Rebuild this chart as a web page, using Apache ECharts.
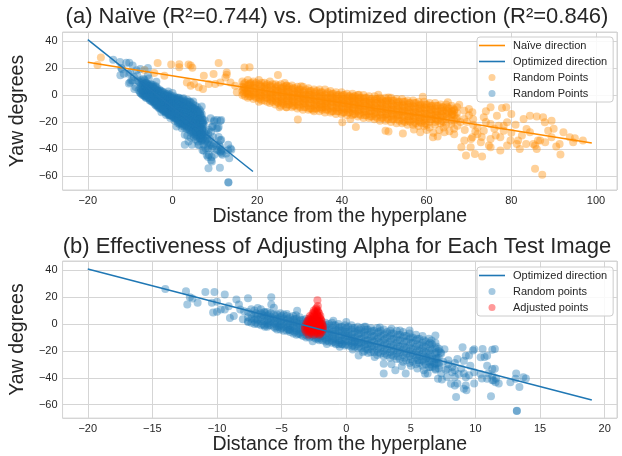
<!DOCTYPE html>
<html>
<head>
<meta charset="utf-8">
<script src="https://cdn.jsdelivr.net/npm/echarts@6/dist/echarts.min.js"></script>
<style>
html, body { margin: 0; padding: 0; background: #fff; }
#chart { width: 622px; height: 456px; }
</style>
</head>
<body>
<div id="chart"></div>
<script>
// fitted lines (end points)
var naiveLine = [[-20, 24.2], [99, -35.6]];
var optLine = [[-20, 41], [19, -56.6]];

// blue cloud: dense core as columns [x, [y...]]
var blueCoreCols = [
    [-7.6, [9, 5, 2]], [-7.35, [11, 7, 4, 1]], [-7.1, [10, 6, 3, 0]], [-6.85, [12, 7, 3, 0]],
    [-6.6, [8, 5, 2, -1]], [-6.35, [9, 6, 2, -1]], [-6.1, [9, 6, 3, 0, -2]], [-5.85, [8, 5, 2, -1]],
    [-5.6, [7, 4, 1, -2]], [-5.35, [7, 4, 1, -2, -4]], [-5.1, [8, 5, 2, -1, -4]], [-4.85, [7, 4, 1, -2, -5]],
    [-4.6, [6, 3, 0, -3, -5]], [-4.35, [5, 2, -1, -4, -6]], [-4.1, [6, 3, 0, -2, -5, -7]], [-3.85, [4, 1, -2, -5, -8]],
    [-3.6, [5, 2, -1, -4, -7]], [-3.35, [3, 0, -3, -6, -9]], [-3.1, [4, 1, -2, -5, -8, -10]], [-2.85, [3, -1, -4, -7, -10]],
    [-2.6, [3, 0, -3, -6, -9]], [-2.35, [2, -2, -5, -8, -11]], [-2.1, [2, -1, -4, -7, -10, -12]], [-1.85, [0, -3, -6, -9, -12]],
    [-1.6, [1, -2, -5, -8, -11, -13]], [-1.35, [0, -4, -7, -10, -13]], [-1.1, [1, -3, -6, -9, -12, -14]], [-0.85, [-1, -4, -7, -11, -14]],
    [-0.6, [0, -3, -6, -9, -12, -15]], [-0.35, [-2, -5, -8, -12, -15]], [-0.1, [-1, -4, -7, -10, -13, -16]], [0.15, [-2, -6, -9, -13, -16]],
    [0.4, [-1, -4, -8, -11, -14, -17]], [0.65, [-3, -6, -10, -13, -17]], [0.9, [-2, -5, -8, -12, -15, -18]], [1.15, [-3, -7, -11, -14, -18]],
    [1.4, [-2, -6, -9, -13, -16, -20]], [1.65, [-4, -8, -12, -15, -19]], [1.9, [-3, -6, -10, -14, -17, -21]], [2.15, [-5, -9, -13, -17, -21]],
    [2.4, [-3, -7, -11, -15, -19, -23]], [2.65, [-5, -9, -14, -18, -22]], [2.9, [-4, -8, -12, -16, -20, -24]], [3.15, [-6, -10, -15, -19, -23]],
    [3.4, [-5, -9, -13, -17, -21, -25]], [3.65, [-7, -11, -16, -20, -24]], [3.9, [-5, -10, -14, -18, -22, -26]], [4.15, [-8, -12, -17, -21, -26]],
    [4.4, [-6, -10, -15, -19, -23, -28]], [4.65, [-9, -13, -18, -22, -27]], [4.9, [-7, -11, -16, -20, -24, -29]], [5.15, [-10, -14, -19, -23, -28]],
    [5.4, [-8, -12, -17, -21, -25, -30]], [5.65, [-11, -16, -20, -24, -29]], [5.9, [-9, -14, -18, -22, -27, -31]], [6.15, [-13, -17, -21, -26, -30]],
    [6.4, [-11, -15, -20, -24, -28, -32]], [6.65, [-15, -19, -24, -28, -32]], [6.9, [-14, -18, -22, -26, -30, -34]], [7.15, [-20, -25, -29, -33]],
    [-7.0, [8, 4, 1]], [-6.5, [7, 4, 0]], [-6.0, [7, 4, 1, -1]], [-5.5, [6, 3, 0, -3]],
    [-5.0, [6, 3, 0, -3]], [-4.5, [4, 1, -2, -4]], [-4.0, [4, 1, -3, -6]], [-3.5, [3, 0, -3, -6, -8]],
    [-3.0, [2, -1, -4, -7, -9]], [-2.5, [1, -2, -5, -8, -10]], [-2.0, [0, -3, -6, -9, -11]], [-1.5, [-1, -4, -7, -10, -12]],
    [-1.0, [-1, -5, -8, -11, -13]], [-0.5, [-2, -5, -9, -12, -14]], [0.0, [-3, -6, -9, -12, -15]], [0.5, [-3, -7, -10, -13, -16]],
    [1.0, [-4, -7, -11, -14, -17]], [1.5, [-4, -8, -12, -15, -18]], [2.0, [-5, -9, -12, -16, -19]], [2.5, [-6, -10, -13, -17, -21]],
    [3.0, [-7, -11, -14, -18, -22]], [3.5, [-7, -11, -15, -19, -23]], [4.0, [-8, -12, -16, -20, -24]], [4.5, [-9, -13, -17, -21, -25]],
    [5.0, [-10, -14, -18, -22, -26]], [5.5, [-11, -15, -19, -23, -27]], [6.0, [-12, -16, -20, -24, -28]], [6.5, [-14, -18, -22, -26, -30]],
    [7.0, [-17, -21, -25, -29]]
];
// blue cloud: scattered points
var blueSparse = [
    [-14, 26], [-12.4, 24.4], [-12.3, 14.6], [-12.1, 20], [-11.9, 19], [-11.5, 15.8], [-10.9, 23.9], [-10.2, 23.9],
    [-10.4, 15.8], [-10, 16.5], [-9.4, 21.9], [-10.3, 8.5], [-10, 9.2], [-9.7, 10.8], [-9.4, 10.8], [-9.1, 13.3],
    [-9, 4.5], [-8.7, 5.9], [-8.5, 18.3], [-8.3, 14.5], [-7.6, 19.2], [-8.2, 10.8], [-7.9, 9.6], [-8, 3.5],
    [-7.6, 1.5], [-5.8, 20], [-5.8, 14.6], [-5.6, 12.2], [-6.6, 11], [-6.3, 8.6], [-3.8, 9.8], [-3.9, 6.5],
    [-4.6, 7.5], [-3.7, -7.5], [-4.4, -4.5], [-5.2, -2], [-6.3, -2], [-2.6, -12.8], [-2.2, -11], [-1.5, -14.8],
    [-0.8, -15], [-0.3, -14.8], [0.65, -13.5], [0.96, -23.4], [1.7, -21.6], [2.2, -24.6], [2.9, -36.9], [4.6, -36.9],
    [4.15, -4.9], [4.9, -4.9], [6.9, -8.6], [6.6, -12.3], [7.2, -18.5], [7.35, -22], [6, -34.4], [6.3, -36.9],
    [6.9, -33.2], [7.4, -41.3], [8.4, -39.4], [9, -17.2], [9.5, -23.4], [9.8, -19.7], [10.55, -18.5], [10.7, -24.6],
    [11.5, -18.5], [11.5, -33.2], [11.6, -40.6], [11.8, -44.3], [8.6, -44.3], [8.5, -54.3], [9.3, -49.2], [9.9, -44.3],
    [11.2, -53.8], [13.15, -36.9], [13.4, -46.8], [13.9, -40.6], [13.2, -64.7], [13.2, -64.6], [11.3, -41.8], [10.5, -40.6],
    [11, -36.9], [8.4, -34.4], [9.1, -36.9], [9.5, -38.1], [7.35, -36.9], [7.8, -39.4], [2.9, -29.5], [3.8, -34.4],
    [6.1, -37], [7.3, -21.2], [7.6, -18.7], [7.1, -40.8], [8.1, -44.5], [8.4, -45.8], [9.25, -23.6], [9.9, -18.7],
    [10.4, -24.8], [10.9, -23.6], [11.3, -19.2], [8.6, -26], [9.1, -27.3], [9.6, -31], [7.85, -33.5], [8.2, -35.9],
    [8.7, -37.1], [9.25, -39.6], [9.9, -35.9], [10.4, -37.1], [10.9, -40.8], [11.3, -38.4], [11.4, -42], [11.55, -43.3],
    [9.1, -48.2], [9.25, -45.8], [12.7, -43.3], [13.1, -40.8], [13.7, -39.6], [10.9, -31], [11.3, -33.5], [7.5, -28],
    [7.9, -30], [8.2, -32], [7.7, -34], [8.4, -29], [8.9, -33], [7.2, -31], [6.8, -29], [6.5, -32],
    [7, -26], [7.9, -27], [5.5, -33], [5, -31], [4.3, -31.5], [3.5, -30], [6.2, -25], [5.6, -27],
    [1.3, -21], [0.5, -19], [-0.5, -17], [1.5, -2], [2.6, -2.5], [3.5, -3.5], [-1, 2.5], [0, 1.5]
];

// orange (naive) cloud: dense core as columns [x, [y...]]
var orangeCoreCols = [
    [16.5, [10, 6, 3, 0]], [17.15, [9, 5, 2, -1]], [17.8, [11, 7, 4, 1, -2]], [18.45, [9, 5, 2, -1]],
    [19.1, [10, 7, 3, 0, -3]], [19.75, [9, 5, 2, -2]], [20.4, [11, 8, 4, 1, -2, -5]], [21.05, [9, 6, 2, -1, -4]],
    [21.7, [9, 6, 3, 0, -4]], [22.35, [8, 5, 1, -2, -5]], [23.0, [10, 7, 3, 0, -3, -6]], [23.65, [8, 4, 1, -2, -5]],
    [24.3, [8, 5, 2, -1, -4, -7]], [24.95, [7, 3, 0, -3, -6]], [25.6, [8, 5, 2, -2, -5, -8]], [26.25, [6, 3, 0, -3, -7]],
    [26.9, [7, 4, 1, -2, -5, -9]], [27.55, [6, 2, -1, -4, -7]], [28.2, [7, 4, 0, -3, -6, -9]], [28.85, [5, 2, -1, -5, -8]],
    [29.5, [6, 3, 0, -3, -7, -10]], [30.15, [4, 1, -2, -5, -9]], [30.8, [6, 2, -1, -4, -7, -11]], [31.45, [4, 0, -3, -6, -9]],
    [32.1, [5, 2, -1, -4, -8, -11]], [32.75, [3, 0, -3, -6, -10]], [33.4, [4, 1, -2, -5, -8, -12]], [34.05, [3, -1, -4, -7, -10]],
    [34.7, [4, 1, -2, -5, -9, -12]], [35.35, [2, -1, -4, -7, -11]], [36.0, [4, 0, -3, -6, -9, -13]], [36.65, [2, -2, -5, -8, -11]],
    [37.3, [3, 0, -3, -6, -10, -13]], [37.95, [1, -2, -5, -9, -12]], [38.6, [2, -1, -4, -7, -10, -14]], [39.25, [0, -3, -6, -9, -12]],
    [39.9, [2, -1, -4, -7, -11, -14]], [40.55, [0, -3, -6, -10, -13]], [41.2, [1, -2, -5, -8, -11, -15]], [41.85, [-1, -4, -7, -10, -13]],
    [42.5, [1, -2, -5, -9, -12, -15]], [43.15, [-1, -4, -7, -11, -14]], [43.8, [0, -3, -6, -9, -12, -16]], [44.45, [-2, -5, -8, -11, -15]],
    [45.1, [0, -3, -6, -10, -13, -17]], [45.75, [-2, -5, -8, -12, -15]], [46.4, [-1, -4, -7, -10, -14, -17]], [47.05, [-3, -6, -9, -12, -16]],
    [47.7, [-1, -4, -8, -11, -14, -18]], [48.35, [-3, -6, -10, -13, -17]], [49.0, [-2, -5, -8, -11, -15, -19]], [49.65, [-4, -7, -10, -14, -17]],
    [50.3, [-2, -5, -9, -12, -15, -19]], [50.95, [-4, -7, -11, -14, -18]], [51.6, [-2, -6, -9, -12, -16, -20]], [52.25, [-4, -8, -11, -15, -18]],
    [52.9, [-3, -6, -10, -13, -16, -21]], [53.55, [-5, -8, -12, -15, -19]], [54.2, [-3, -7, -10, -13, -17, -21]], [54.85, [-5, -9, -12, -16, -20]],
    [55.5, [-4, -7, -11, -14, -18, -22]], [56.15, [-6, -9, -13, -16, -20]], [56.8, [-4, -8, -11, -15, -18, -22]], [57.45, [-6, -10, -13, -17, -21]],
    [58.1, [-5, -8, -12, -15, -19, -23]], [58.75, [-7, -10, -14, -17, -21]], [59.4, [-5, -9, -12, -16, -19, -23]], [60.05, [-7, -11, -14, -18, -22]],
    [60.7, [-6, -9, -13, -16, -20, -24]], [61.35, [-8, -11, -15, -18]], [62.0, [-6, -10, -13, -17, -20]], [62.65, [-8, -12, -15, -19]],
    [63.3, [-7, -10, -14, -17, -21]], [63.95, [-9, -12, -16, -20]], [64.6, [-7, -11, -14, -18, -22]], [65.25, [-10, -13, -17]],
    [65.9, [-8, -12, -15, -19]], [66.55, [-11, -15, -19]], [67.2, [-9, -13, -17]],
    [16.8, [8, 4, 1]], [18.1, [8, 5, 1, -1]], [19.4, [8, 5, 1, -1]], [20.7, [7, 3, 0, -3]],
    [22.0, [7, 4, 1, -2]], [23.3, [6, 2, -1, -4]], [24.6, [6, 3, -1, -5]], [25.9, [5, 2, -1, -4, -6]],
    [27.2, [5, 2, -1, -4, -7]], [28.5, [5, 1, -2, -5, -8]], [29.8, [4, 1, -2, -5, -8]], [31.1, [3, 0, -3, -6, -9]],
    [32.4, [3, 0, -3, -6, -10]], [33.7, [2, -1, -4, -7, -10]], [35.0, [2, -1, -4, -7, -10]], [36.3, [1, -2, -5, -8, -11]],
    [37.6, [1, -2, -5, -8, -12]], [38.9, [0, -3, -6, -9, -12]], [40.2, [0, -3, -6, -9, -13]], [41.5, [-1, -4, -7, -10, -13]],
    [42.8, [-1, -4, -7, -10, -14]], [44.1, [-2, -5, -8, -11, -14]], [45.4, [-2, -5, -8, -12, -15]], [46.7, [-3, -6, -9, -12, -16]],
    [48.0, [-3, -6, -9, -13, -16]], [49.3, [-3, -6, -10, -13, -17]], [50.6, [-4, -7, -10, -14, -17]], [51.9, [-4, -7, -11, -14, -18]],
    [53.2, [-5, -8, -11, -15, -18]], [54.5, [-5, -8, -12, -15, -19]], [55.8, [-6, -9, -12, -16, -19]], [57.1, [-6, -9, -13, -16, -20]],
    [58.4, [-7, -10, -13, -17, -20]], [59.7, [-7, -10, -14, -17, -21]], [61.0, [-8, -11, -14, -18]], [62.3, [-8, -12, -15, -18]],
    [63.6, [-9, -12, -15, -19]], [64.9, [-9, -12, -16]], [66.2, [-10, -14]]
];
// orange cloud: scattered points
var orangeSparse = [
    [-16.9, 27.8], [-17.7, 22.1], [-3.5, 23.6], [-0.3, 22.6], [1.6, 20.5], [1.6, 22.8], [3.8, 22.5], [4.3, 21.8],
    [4.7, 20.1], [10.9, 23.6], [-4.3, 16.2], [-1.9, 14.3], [-6.6, 18.4], [3.4, 9.3], [4.3, 6.9], [5.1, 8.1],
    [6.2, 5.7], [7.2, 4.4], [7.4, 14.3], [9.7, 15.5], [12.8, 15], [12.5, 13], [12.8, 16.7], [8.6, 8.1],
    [10.1, 8.1], [11.3, 9.3], [13.7, 9.3], [17, 20.4], [18.2, 20.5], [14.8, 6.9], [15.2, 2], [16.8, 5.7],
    [17.6, 2], [18.4, 8.1], [24.9, 14.7], [26.5, 8.8], [26.9, 6.9], [30.35, 6.4], [29.6, -18.2], [25.3, -9.1],
    [26.9, -9.1], [33.1, -10.9], [35.4, -9.1], [40.1, -20.2], [42, -17.7], [43.3, -23.6], [44, 0.2], [42.4, -1.8],
    [48.6, 0.2], [51, -1.8], [50.3, -26.4], [51, -27.1], [54.4, -28.5], [57, -25.6], [58.5, -27.5], [59.1, -1.3],
    [61.5, -31.3], [62.6, -30.8], [64.2, -27.6], [61.6, -28], [65.4, -26.8], [65, -5.4], [66.5, -11.6], [67.7, -7.2],
    [68.9, -11.6], [70, -10.4], [70.8, -12.8], [68.9, -17.7], [67.3, -22.7], [65.8, -21.4], [68.9, -33.7], [70.8, -31.3],
    [70.4, -38.6], [72.8, -35], [69.3, -44.8], [73.1, -45.5], [74.7, -37.4], [75.1, -38.6], [73.5, -16.5], [75.1, -9.1],
    [76.6, -15.3], [77.8, -9.6], [75.1, -21.4], [77, -22.7], [79, -20.2], [78.2, -26.4], [73.5, -26.4], [75.1, -32.5],
    [76.3, -30], [77.4, -31.3], [77.4, -41.1], [79, -37.4], [79.8, -33.7], [81.3, -36.2], [82.5, -30], [83.6, -25.1],
    [84.4, -27.6], [82.9, -17.7], [86, -16], [87.5, -16.5], [87.9, -20.2], [85.6, -37.4], [85.2, -36.2], [86, -39.9],
    [86.8, -33.7], [85.6, -54.6], [87.3, -59], [88.7, -26.4], [89.5, -31.3], [91.4, -36.2], [91.6, -44], [90.6, -38.2],
    [93.8, -31.3], [96.9, -33.7], [94.6, -35], [84.4, -15.3], [89.5, -19], [92.3, -27.6], [68.2, -38.6], [70.5, -32.5],
    [71.4, -43.6], [78.8, -9.1], [78.2, -22.7], [81.6, -33.7], [83.5, -36.2], [86.3, -33.7], [69.5, -20], [71, -18],
    [72, -24], [74, -20], [71.5, -27], [69, -26], [66.5, -25], [70, -15], [66, -14], [67, -18],
    [68, -20], [71, -22], [72, -29], [73, -31], [76, -25], [74, -12], [80, -14], [81, -22],
    [80, -28], [82, -40], [88, -35], [90, -25], [95, -32], [66.5, -29], [64, -24], [63, -26],
    [62, -22], [60, -26]
];

// adjusted (red) points
var redPoints = [
    [-2.9, -8], [-2.5, -8], [-2.1, -8], [-2.7, -7], [-2.3, -7], [-2.0, -7],
    [-3.1, -6], [-2.8, -6], [-2.5, -6], [-2.2, -6], [-1.9, -6], [-3.0, -5], [-2.65, -5], [-2.35, -5], [-2.0, -5],
    [-3.2, -4], [-2.9, -4], [-2.6, -4], [-2.3, -4], [-2.0, -4], [-1.8, -4],
    [-3.05, -3], [-2.75, -3], [-2.45, -3], [-2.15, -3], [-1.9, -3],
    [-3.2, -2], [-2.9, -2], [-2.6, -2], [-2.3, -2], [-2.0, -2], [-1.8, -2],
    [-3.0, -1], [-2.7, -1], [-2.4, -1], [-2.1, -1], [-1.85, -1],
    [-3.1, 0], [-2.8, 0], [-2.5, 0], [-2.2, 0], [-1.9, 0], [-2.95, 1], [-2.65, 1], [-2.35, 1], [-2.05, 1],
    [-3.0, 2], [-2.7, 2], [-2.4, 2], [-2.1, 2], [-1.9, 2], [-2.85, 3], [-2.55, 3], [-2.25, 3], [-1.95, 3],
    [-2.9, 4], [-2.6, 4], [-2.3, 4], [-2.0, 4], [-2.7, 5], [-2.4, 5], [-2.1, 5],
    [-2.8, 6], [-2.5, 6], [-2.2, 6], [-2.0, 6], [-2.55, 7], [-2.25, 7],
    [-2.6, 8], [-2.3, 8], [-2.1, 8], [-2.45, 9], [-2.2, 9], [-2.5, 10], [-2.2, 10], [-2.35, 11],
    [-2.3, 12], [-2.2, 13.5], [-2.23, 17.7]
];

function flattenCols(cols) {
    var out = [];
    cols.forEach(function (c) {
        c[1].forEach(function (y) { out.push([c[0], y]); });
    });
    return out;
}
var bluePoints = flattenCols(blueCoreCols).concat(blueSparse);
var orangePoints = flattenCols(orangeCoreCols).concat(orangeSparse);

var FONT = 'Liberation Sans';
var TXT = '#262626';
var GRIDC = '#d5d5d5';
var DOT = 8;
var LINE_ICON = 'path://M0,0L26,0L26,1.6L0,1.6Z';
var ORANGE_A = 'rgba(255,140,0,0.5)';
var BLUE_A = 'rgba(31,119,180,0.5)';
var RED_A = 'rgba(255,0,0,0.5)';

function minus(v) { return String(v).replace('-', '\u2212'); }

function xAxis(idx, min, max, split) {
    return {
        gridIndex: idx, type: 'value', min: min, max: max, splitNumber: split,
        axisLine: {show: false}, axisTick: {show: false},
        splitLine: {lineStyle: {color: GRIDC, width: 1}},
        axisLabel: {fontSize: 11, color: TXT, fontFamily: FONT, margin: 5,
            showMinLabel: false, showMaxLabel: false, formatter: minus},
        name: 'Distance from the hyperplane', nameLocation: 'middle', nameGap: 16,
        nameTextStyle: {fontSize: 19.5, color: TXT, fontFamily: FONT, verticalAlign: 'top'}
    };
}
function yAxis(idx, min, max) {
    return {
        gridIndex: idx, type: 'value', min: min, max: max, splitNumber: 6,
        axisLine: {show: false}, axisTick: {show: false},
        splitLine: {lineStyle: {color: GRIDC, width: 1}},
        axisLabel: {fontSize: 11, color: TXT, fontFamily: FONT, margin: 5,
            showMinLabel: false, showMaxLabel: false, formatter: minus},
        name: 'Yaw degrees', nameLocation: 'middle', nameGap: 26,
        nameTextStyle: {fontSize: 19.5, color: TXT, fontFamily: FONT}
    };
}
function legend(top, items) {
    return {
        orient: 'vertical', left: 477, top: top, itemWidth: 26, itemHeight: 7, itemGap: 5,
        padding: [3, 6, 3, 2], backgroundColor: 'rgba(255,255,255,0.85)',
        borderColor: '#cccccc', borderWidth: 1, borderRadius: 3, selectedMode: false,
        textStyle: {fontSize: 11, color: TXT, fontFamily: FONT, padding: [0, 0, 0, 3]},
        formatter: function (n) { return n.split('#')[0]; },
        data: items
    };
}

var myChart = echarts.init(document.getElementById('chart'), null, {renderer: 'canvas'});
myChart.setOption({
    animation: false,
    backgroundColor: '#ffffff',
    title: [{
        text: '(a) Na\u00efve (R\u00b2=0.744) vs. Optimized direction (R\u00b2=0.846)',
        left: 337, top: 6, textAlign: 'center', padding: 0,
        textStyle: {fontSize: 22, fontWeight: 'normal', color: TXT, fontFamily: FONT}
    }, {
        text: '(b) Effectiveness of Adjusting Alpha for Each Test Image',
        left: 337, top: 236, textAlign: 'center', padding: 0,
        textStyle: {fontSize: 22, fontWeight: 'normal', color: TXT, fontFamily: FONT}
    }],
    grid: [
        {left: 57, top: 32, width: 560, height: 158, show: true, borderColor: GRIDC, borderWidth: 1},
        {left: 57, top: 261, width: 560, height: 158, show: true, borderColor: GRIDC, borderWidth: 1}
    ],
    xAxis: [xAxis(0, -25.95, 104.95, 6), xAxis(1, -21.95, 20.95, 8)],
    yAxis: [yAxis(0, -70.3, 46.6), yAxis(1, -70.0, 46.9)],
    legend: [
        legend(37, [{name: 'Na\u00efve direction', icon: LINE_ICON}, {name: 'Optimized direction', icon: LINE_ICON},
            {name: 'Random Points#1', icon: 'circle'}, {name: 'Random Points#2', icon: 'circle'}]),
        legend(267, [{name: 'Optimized direction#2', icon: LINE_ICON}, {name: 'Random points', icon: 'circle'},
            {name: 'Adjusted points', icon: 'circle'}])
    ],
    series: [{
        name: 'Random Points#1', type: 'scatter', xAxisIndex: 0, yAxisIndex: 0,
        data: orangePoints, symbolSize: DOT, itemStyle: {color: ORANGE_A}, emphasis: {disabled: true}
    }, {
        name: 'Random Points#2', type: 'scatter', xAxisIndex: 0, yAxisIndex: 0,
        data: bluePoints, symbolSize: DOT, itemStyle: {color: BLUE_A}, emphasis: {disabled: true}
    }, {
        name: 'Na\u00efve direction', type: 'line', xAxisIndex: 0, yAxisIndex: 0, z: 5,
        data: naiveLine, symbol: 'none', lineStyle: {color: '#ff8c00', width: 1.5}, itemStyle: {color: '#ff8c00'}
    }, {
        name: 'Optimized direction', type: 'line', xAxisIndex: 0, yAxisIndex: 0, z: 5,
        data: optLine, symbol: 'none', lineStyle: {color: '#1f77b4', width: 1.5}, itemStyle: {color: '#1f77b4'}
    }, {
        name: 'Random points', type: 'scatter', xAxisIndex: 1, yAxisIndex: 1,
        data: bluePoints, symbolSize: DOT, itemStyle: {color: BLUE_A}, emphasis: {disabled: true}
    }, {
        name: 'Adjusted points', type: 'scatter', xAxisIndex: 1, yAxisIndex: 1,
        data: redPoints, symbolSize: DOT, itemStyle: {color: RED_A}, emphasis: {disabled: true}
    }, {
        name: 'Optimized direction#2', type: 'line', xAxisIndex: 1, yAxisIndex: 1, z: 5,
        data: optLine, symbol: 'none', lineStyle: {color: '#1f77b4', width: 1.5}, itemStyle: {color: '#1f77b4'}
    }]
});
</script>
</body>
</html>
